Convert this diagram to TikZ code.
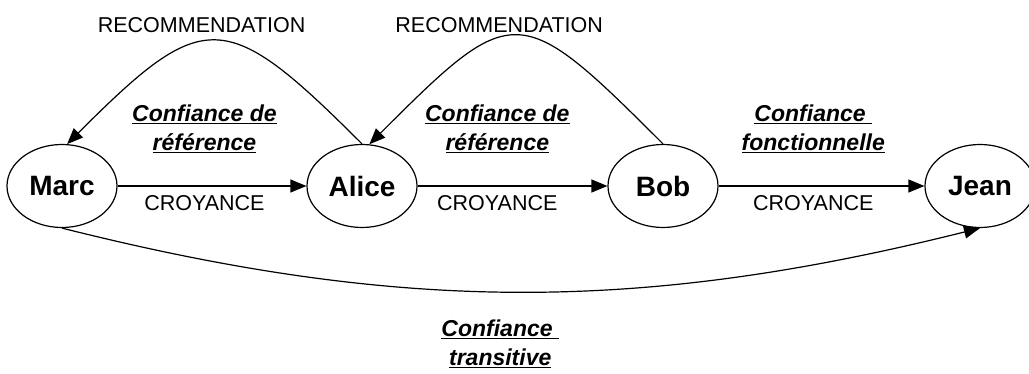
\documentclass[tikz,border=0pt]{standalone}
\usepackage{fontspec}
\setmainfont{Liberation Sans}
\usetikzlibrary{positioning,shapes,arrows.meta}
\tikzstyle{line} = [draw, line width=1.2pt, -{Triangle[length=16pt,width=13pt]}]
\tikzstyle{agent} = [ellipse, draw=black, line width=1.2pt, minimum width=110pt, minimum height=83pt, inner sep=0pt, font=\fontsize{28}{32}\selectfont\bfseries]
\tikzstyle{relation} = [inner sep=2pt, font=\fontsize{21.5}{24}\selectfont]
\tikzstyle{confiance} = [inner sep=2pt, font=\fontsize{23}{29}\selectfont]
\newcommand{\conf}[1]{\underline{\textbf{\textit{#1}}}}

\begin{document}
\begin{tikzpicture}[x=1pt, y=1pt, align=center]
\useasboundingbox (0,0) rectangle (1029,374);

\node (marc) [agent] at (62,188) {Marc};

\node (alice) [agent, right of=marc, node distance=300pt] {Alice};
\path [line] (marc) -- node [relation, pos=0.46, below=7pt] {CROYANCE} node [confiance, pos=0.46, above=31pt] {\conf{Confiance de}\\\conf{référence}} (alice);

\node (bob) [agent, right of=alice, node distance=301pt] {Bob};
\path [line] (alice) -- node [relation, pos=0.42, below=7pt] {CROYANCE} node [confiance, pos=0.42, above=31pt] {\conf{Confiance de}\\\conf{référence}} (bob);

\node (jean) [agent, right of=bob, node distance=317pt] {Jean};
\path [line] (bob) -- node [relation, pos=0.46, below=7pt] {CROYANCE} node [confiance, pos=0.46, above=31pt] {\conf{Confiance\ }\\\conf{fonctionnelle}} (jean);

% recommandations
\path [line] (alice.north) .. controls +(-137,137) and +(137,137) .. node [relation, midway, above=6pt, xshift=-13pt] {RECOMMENDATION} (marc.83);
\path [line] (bob.north) .. controls +(-144,144) and +(144,144) .. node [relation, midway, above=1pt, xshift=-17pt] {RECOMMENDATION} (alice.80);

% transitive
\path [line] (marc.south) .. controls +(338,-85) and +(-340,-85) .. node [confiance, midway, below=25pt, xshift=-20pt] {\conf{Confiance\ }\\\conf{transitive}} (jean.south);

\end{tikzpicture}
\end{document}
